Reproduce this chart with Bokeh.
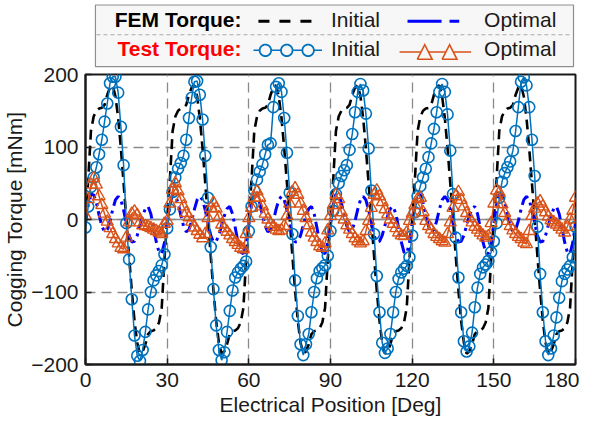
import numpy as np
from bokeh.plotting import figure
from bokeh.models import Range1d, Span
from bokeh.embed import file_html
from bokeh.resources import INLINE
from bokeh.core.properties import value

# ---------------- data ----------------
angle = list(range(0, 181))  # electrical position [deg], 1 deg steps

fem_initial = [
    0, 55, 122, 142, 150, 153, 154, 158, 172, 182, 185, 170, 140, 98, 50, 0, -50, -98, -140, -170, -185, -182, -172, -158, -154, -153, -150, -142, -122, -55,
    0, 55, 122, 142, 150, 153, 154, 158, 172, 182, 185, 170, 140, 98, 50, 0, -50, -98, -140, -170, -185, -182, -172, -158, -154, -153, -150, -142, -122, -55,
    0, 55, 122, 142, 150, 153, 154, 158, 172, 182, 185, 170, 140, 98, 50, 0, -50, -98, -140, -170, -185, -182, -172, -158, -154, -153, -150, -142, -122, -55,
    0, 55, 122, 142, 150, 153, 154, 158, 172, 182, 185, 170, 140, 98, 50, 0, -50, -98, -140, -170, -185, -182, -172, -158, -154, -153, -150, -142, -122, -55,
    0, 55, 122, 142, 150, 153, 154, 158, 172, 182, 185, 170, 140, 98, 50, 0, -50, -98, -140, -170, -185, -182, -172, -158, -154, -153, -150, -142, -122, -55,
    0, 55, 122, 142, 150, 153, 154, 158, 172, 182, 185, 170, 140, 98, 50, 0, -50, -98, -140, -170, -185, -182, -172, -158, -154, -153, -150, -142, -122, -55,
    0,
]

fem_optimal = [
    -6, 20, 35, 34, 23, 6, -9, -17, -14, -2, 14, 27, 32, 27, 13, -5, -22, -31, -30, -22, -8, 5, 15, 18, 8, -11, -31, -45, -47, -32,
    -6, 20, 35, 34, 23, 6, -9, -17, -14, -2, 14, 27, 32, 27, 13, -5, -22, -31, -30, -22, -8, 5, 15, 18, 8, -11, -31, -45, -47, -32,
    -6, 20, 35, 34, 23, 6, -9, -17, -14, -2, 14, 27, 32, 27, 13, -5, -22, -31, -30, -22, -8, 5, 15, 18, 8, -11, -31, -45, -47, -32,
    -6, 20, 35, 34, 23, 6, -9, -17, -14, -2, 14, 27, 32, 27, 13, -5, -22, -31, -30, -22, -8, 5, 15, 18, 8, -11, -31, -45, -47, -32,
    -6, 20, 35, 34, 23, 6, -9, -17, -14, -2, 14, 27, 32, 27, 13, -5, -22, -31, -30, -22, -8, 5, 15, 18, 8, -11, -31, -45, -47, -32,
    -6, 20, 35, 34, 23, 6, -9, -17, -14, -2, 14, 27, 32, 27, 13, -5, -22, -31, -30, -22, -8, 5, 15, 18, 8, -11, -31, -45, -47, -32,
    -6,
]

test_initial = [
    -11, 18, 45, 58, 72, 90, 110, 135, 160, 188, 197, 197, 175, 128, 75, -5, -55, -110, -160, -188, -195, -180, -155, -124, -100, -84, -77, -71, -63, -48,
    -12, 14, 38, 58, 70, 78, 88, 110, 140, 168, 190, 191, 172, 138, 88, 30, -38, -96, -146, -180, -194, -183, -155, -126, -98, -80, -73, -68, -64, -58,
    -16, 18, 40, 55, 66, 76, 90, 103, 105, 155, 183, 188, 176, 140, 92, 37, -20, -84, -133, -172, -187, -172, -158, -128, -100, -81, -71, -67, -63, -50,
    -16, 12, 35, 50, 60, 68, 75, 96, 118, 148, 176, 187, 178, 146, 98, 40, -20, -78, -128, -170, -184, -178, -158, -128, -100, -82, -73, -68, -64, -52,
    -22, 10, 32, 46, 58, 70, 86, 105, 125, 148, 176, 187, 176, 145, 95, 35, -25, -80, -128, -168, -182, -175, -156, -121, -94, -75, -66, -62, -57, -45,
    -30, -5, 30, 52, 64, 72, 80, 95, 122, 155, 190, 196, 185, 155, 110, 60, -10, -75, -128, -168, -187, -178, -160, -135, -108, -85, -75, -69, -64, -52,
    -10,
]

test_optimal = [
    5, 28, 48, 57, 48, 32, 20, 8, -3, -12, -20, -27, -33, -39, -41, -25, -4, 8, 11, 6, -4, -8, -9, -10, -12, -14, -16, -18, -20, -6,
    -2, 22, 41, 50, 39, 28, 18, 9, 3, -3, -11, -16, -21, -26, -20, 2, 16, 23, 15, 3, -7, -12, -17, -22, -27, -31, -35, -39, -41, -20,
    2, 16, 30, 39, 30, 18, 8, 0, -6, -10, -14, -16, -15, -9, 5, 22, 38, 43, 34, 22, 12, 2, -8, -18, -25, -31, -37, -39, -33, -15,
    5, 20, 34, 28, 10, 0, -8, -14, -20, -26, -30, -33, -30, -16, -2, 16, 34, 40, 32, 24, 14, 7, 0, -6, -12, -18, -22, -23, -18, -2,
    8, 20, 28, 30, 10, -2, -9, -14, -20, -24, -27, -30, -32, -20, -4, 16, 32, 38, 27, 18, 9, 2, -4, -10, -14, -18, -22, -25, -23, -5,
    22, 40, 37, 21, 9, -2, -9, -15, -20, -24, -27, -32, -34, -16, 5, 15, 22, 25, 18, 10, 4, -1, -4, -7, -10, -14, -18, -10, 0, 12,
    30,
]

x_ticks = [0, 30, 60, 90, 120, 150, 180]
y_ticks = [-200, -100, 0, 100, 200]

for s in (fem_initial, fem_optimal, test_initial, test_optimal):
    assert len(s) == len(angle)

FONT = "Liberation Sans"
BLACK = "#000000"
BLUE = "#0000FF"
C_INIT = "#0072BD"
C_OPT = "#D95319"
LEG_BG = "#F7F7F7"
TXT = "#1a1a1a"

W, H = 579, 418
BL, BR, BT, BB = 74, 4, 74, 52

p = figure(width=W, height=H, x_range=Range1d(0, 180), y_range=Range1d(-200, 200),
           output_backend="svg", toolbar_location=None,
           min_border_left=BL, min_border_right=BR, min_border_top=BT, min_border_bottom=BB)
p.outline_line_color = TXT
p.outline_line_width = 2

p.xaxis.ticker = x_ticks
p.yaxis.ticker = y_ticks
p.xgrid.ticker = x_ticks
p.ygrid.ticker = y_ticks
for g in (p.xgrid, p.ygrid):
    g.grid_line_color = "#8a8a8a"
    g.grid_line_width = 1.3
    g.grid_line_dash = "10 6"
p.add_layout(Span(location=0, dimension="width", line_color="#8a8a8a", line_width=1.3, level="underlay"))

for ax in (p.xaxis, p.yaxis):
    ax.axis_line_color = TXT
    ax.axis_line_width = 2
    ax.major_tick_in = 6
    ax.major_tick_out = 0
    ax.major_tick_line_color = TXT
    ax.major_tick_line_width = 1.5
    ax.minor_tick_line_color = None
    ax.major_label_text_font = FONT
    ax.major_label_text_font_size = "21px"
    ax.major_label_text_color = TXT
    ax.axis_label_text_font = FONT
    ax.axis_label_text_font_size = "21px"
    ax.axis_label_text_font_style = "normal"
    ax.axis_label_text_color = TXT

p.xaxis.axis_label = "Electrical Position [Deg]"
p.yaxis.axis_label = "Cogging Torque [mNm]"
p.xaxis.major_label_standoff = 8
p.xaxis.axis_label_standoff = 3
p.yaxis.major_label_standoff = 7
p.yaxis.axis_label_standoff = 2

# ---- data series ----
p.line(angle, fem_initial, line_color=BLACK, line_width=2.6, line_dash="10 6")
p.line(angle, fem_optimal, line_color=BLUE, line_width=3, line_dash="12 5 3 5")
p.line(angle, test_initial, line_color=C_INIT, line_width=1.5)
p.scatter(angle, test_initial, marker="circle", size=11, line_color=C_INIT,
          line_width=1.6, fill_alpha=0)
p.line(angle, test_optimal, line_color=C_OPT, line_width=1.5)
p.scatter(angle, test_optimal, marker="triangle", size=12, line_color=C_OPT,
          line_width=1.4, fill_alpha=0)

# ---- legend above the frame (x = canvas px, y = px above the frame top) ----
p.extra_x_ranges = {"legx": Range1d(BL, 567)}
p.extra_y_ranges = {"legy": Range1d(-(H - BT - BB), 0)}
kw = dict(x_range_name="legx", y_range_name="legy", level="overlay")

p.quad(left=[84], right=[565], bottom=[8], top=[70], fill_color=LEG_BG,
       line_color="#8f8f8f", line_width=1.2, **kw)
p.line([85, 564], [40, 40], line_color="#a8a8a8", line_width=1, line_dash="4 3", **kw)

ROW1, ROW2 = 55.2, 26.0   # text middles
p.text(x=[231], y=[ROW1], text=["FEM Torque:"], text_align="right", text_baseline="middle",
       text_font=value(FONT), text_font_style="bold", text_font_size="21px", text_color="#000000", **kw)
p.text(x=[231], y=[ROW2], text=["Test Torque:"], text_align="right", text_baseline="middle",
       text_font=value(FONT), text_font_style="bold", text_font_size="21px", text_color="#FF0000", **kw)
for ym in (ROW1, ROW2):
    p.text(x=[321], y=[ym], text=["Initial"], text_baseline="middle",
           text_font=value(FONT), text_font_size="21px", text_color=TXT, **kw)
    p.text(x=[475], y=[ym], text=["Optimal"], text_baseline="middle",
           text_font=value(FONT), text_font_size="21px", text_color=TXT, **kw)

S1 = 53.7
p.line([248, 302], [S1, S1], line_color=BLACK, line_width=3, line_dash="11 10", **kw)
p.line([398, 450], [S1, S1], line_color=BLUE, line_width=3, line_dash="34 8 10 8", **kw)

# test-initial sample: line pieces between three open circles
CY, R = 24.3, 5.8
cxs = [255, 276.5, 298]
seg_x = [243, cxs[0] - R, np.nan, cxs[0] + R, cxs[1] - R, np.nan, cxs[1] + R, cxs[2] - R, np.nan, cxs[2] + R, 312]
seg_y = [CY, CY, np.nan, CY, CY, np.nan, CY, CY, np.nan, CY, CY]
p.line(seg_x, seg_y, line_color=C_INIT, line_width=1.5, **kw)
t = np.linspace(0, 2 * np.pi, 33)
ring_x, ring_y = [], []
for cx in cxs:
    ring_x += list(cx + R * np.cos(t)) + [np.nan]
    ring_y += list(CY + R * np.sin(t)) + [np.nan]
p.line(ring_x, ring_y, line_color=C_INIT, line_width=1.8, **kw)

# test-optimal sample: line pieces between two open triangles
LY, TB, TT, HW = 22.7, 15.3, 30.0, 7.5
txs = [415.3, 440.3]
g = HW * (TT - LY) / (TT - TB)
seg_x = [390, txs[0] - g, np.nan, txs[0] + g, txs[1] - g, np.nan, txs[1] + g, 462]
seg_y = [LY, LY, np.nan, LY, LY, np.nan, LY, LY]
p.line(seg_x, seg_y, line_color=C_OPT, line_width=1.5, **kw)
tri_x, tri_y = [], []
for cx in txs:
    tri_x += [cx - HW, cx + HW, cx, cx - HW, np.nan]
    tri_y += [TB, TB, TT, TB, np.nan]
p.line(tri_x, tri_y, line_color=C_OPT, line_width=1.6, line_join="miter", **kw)

open("out.html", "w").write(file_html(p, INLINE))
